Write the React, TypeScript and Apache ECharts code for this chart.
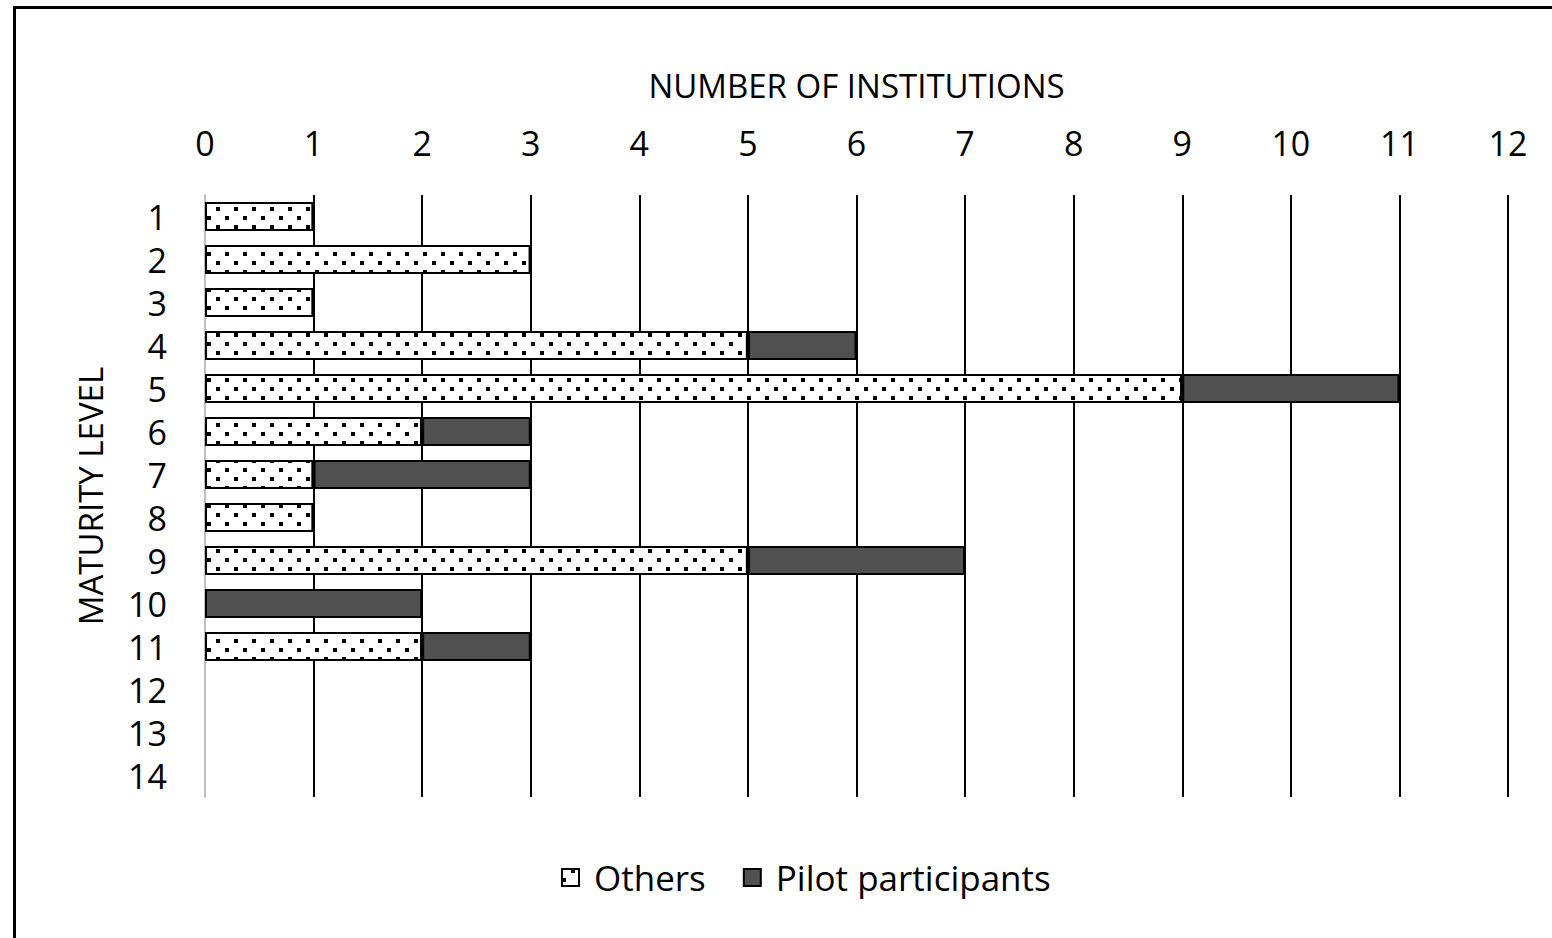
import React, { useEffect, useRef } from "react";
import * as echarts from "echarts";

const levels = ["1", "2", "3", "4", "5", "6", "7", "8", "9", "10", "11", "12", "13", "14"];
const others = [1, 3, 1, 5, 9, 2, 1, 1, 5, null, 2, null, null, null];
const pilot = [null, null, null, 1, 2, 1, 2, null, 2, 2, 1, null, null, null];
const xTicks = { min: 0, max: 12, interval: 1 };

const FONT = "'Open Sans', sans-serif";

export default function App() {
  const ref = useRef<HTMLDivElement>(null);
  useEffect(() => {
    if (!ref.current) return;
    const chart = echarts.init(ref.current, undefined, { renderer: "svg" });
    chart.setOption({
      animation: false,
      backgroundColor: "#fff",
      textStyle: { fontFamily: FONT },
      grid: { left: 205, right: 44, top: 195, bottom: 141, containLabel: false },
      xAxis: {
        type: "value",
        position: "top",
        min: xTicks.min,
        max: xTicks.max,
        interval: xTicks.interval,
        name: "NUMBER OF INSTITUTIONS",
        nameLocation: "middle",
        nameGap: 93,
        nameTextStyle: { fontSize: 33, color: "#000", fontFamily: FONT },
        axisLine: { show: false },
        axisTick: { show: false },
        axisLabel: { fontSize: 34, color: "#000", margin: 35, fontFamily: FONT },
        splitLine: { show: true, showMinLine: false, lineStyle: { color: "#000", width: 2 } },
      },
      yAxis: {
        type: "category",
        inverse: true,
        data: levels,
        name: "MATURITY LEVEL",
        nameLocation: "middle",
        nameRotate: 90,
        nameGap: 98,
        nameTextStyle: { fontSize: 33, color: "#000", fontFamily: FONT },
        axisLine: { show: true, lineStyle: { color: "#bfbfbf", width: 2 } },
        axisTick: { show: false },
        axisLabel: { fontSize: 34, color: "#000", margin: 38, fontFamily: FONT, interval: 0, hideOverlap: false },
        splitLine: { show: false },
      },
      legend: {
        bottom: 38,
        left: 556,
        itemWidth: 17,
        itemHeight: 17,
        itemGap: 37,
        textStyle: { fontSize: 35, color: "#000", fontFamily: FONT, padding: [0, 0, 0, 10] },
        data: [
          { name: "Others", icon: "rect" },
          { name: "Pilot participants", icon: "rect" },
        ],
      },
      series: [
        {
          name: "Others",
          type: "bar",
          stack: "total",
          barWidth: 29,
          data: others,
          itemStyle: {
            color: "#ffffff",
            borderColor: "#000",
            borderWidth: 2,
            decal: {
              symbol: "rect",
              symbolSize: 1,
              color: "#000",
              dashArrayX: [[4, 14], [0, 9, 4, 5]],
              dashArrayY: [4, 5],
              rotation: 0,
            },
          },
        },
        {
          name: "Pilot participants",
          type: "bar",
          stack: "total",
          barWidth: 29,
          data: pilot,
          itemStyle: { color: "#505050", borderColor: "#000", borderWidth: 2 },
        },
      ],
      graphic: [
        {
          type: "rect",
          shape: { x: 14.5, y: 7.5, width: 1600, height: 1000 },
          style: { fill: "none", stroke: "#000", lineWidth: 3 },
          z: 100,
        },
      ],
    });
    return () => chart.dispose();
  }, []);
  return (
    <div
      ref={ref}
      style={{ position: "fixed", left: 0, top: 0, width: 1552, height: 938 }}
    />
  );
}
